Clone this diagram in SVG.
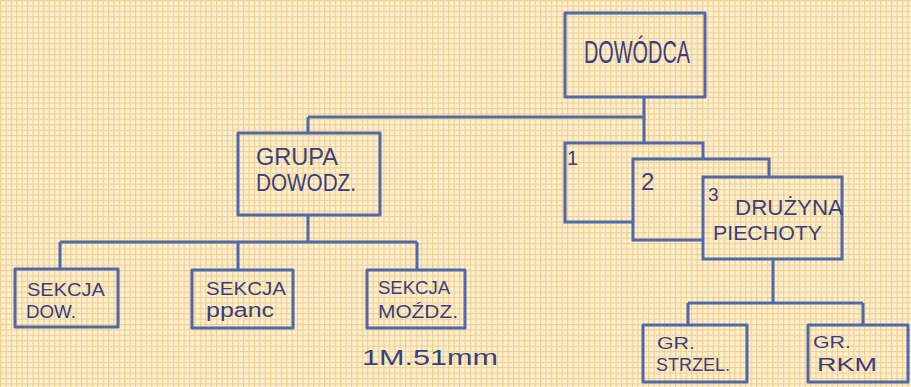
<svg xmlns="http://www.w3.org/2000/svg" width="911" height="387" viewBox="0 0 911 387" font-size="20">
<defs>
<pattern id="grid" width="5.4" height="5.4" patternUnits="userSpaceOnUse">
<rect width="5.4" height="5.4" fill="#fbefd4"/>
<path d="M0 0.6H5.4M0.6 0V5.4" stroke="#f2d08c" stroke-width="1.2"/>
</pattern>
<style>
.box{fill:none;stroke:#5069a8;stroke-width:3;stroke-linejoin:round}
.bg{fill:url(#grid);stroke:#5069a8;stroke-width:3}
.ln{fill:none;stroke:#5069a8;stroke-width:3}
text{font-family:"Liberation Sans","DejaVu Sans",sans-serif;fill:#3b3e7c}
</style>
</defs>
<rect width="911" height="387" fill="url(#grid)"/>
<g id="connectors">
<path class="ln" d="M644 98V117M308 117H644M308 117V133M644 117V143"/>
<path class="ln" d="M308 215V242M60 242H417M60 242V269M238 242V270M417 242V270"/>
<path class="ln" d="M773 259V303M688 303H863M688 303V325M863 303V325"/>
</g>
<g id="dowodca">
<rect class="box" x="565" y="13" width="140" height="84"/>
<text x="584" y="63" font-size="31" textLength="106" lengthAdjust="spacingAndGlyphs">DOWÓDCA</text>
</g>
<g id="grupa-dowodz">
<rect class="box" x="238" y="133" width="142" height="82"/>
<text x="256" y="165" font-size="23" textLength="82" lengthAdjust="spacingAndGlyphs">GRUPA</text>
<text x="256" y="191" font-size="23" textLength="100" lengthAdjust="spacingAndGlyphs">DOWODZ.</text>
</g>
<g id="druzyna-1">
<rect class="bg" x="565" y="143" width="138" height="79"/>
<text x="567" y="165" font-size="20">1</text>
</g>
<g id="druzyna-2">
<rect class="bg" x="633" y="159" width="136" height="81"/>
<text x="641" y="190" font-size="24">2</text>
</g>
<g id="druzyna-3">
<rect class="bg" x="703" y="177" width="139" height="82"/>
<text x="708" y="201" font-size="19">3</text>
<text x="735" y="215" font-size="22" textLength="108" lengthAdjust="spacingAndGlyphs">DRUŻYNA</text>
<text x="713" y="240" font-size="21" textLength="109" lengthAdjust="spacingAndGlyphs">PIECHOTY</text>
</g>
<g id="sekcja-dow">
<rect class="box" x="15" y="269" width="103" height="58"/>
<text x="27" y="296" font-size="19" textLength="78" lengthAdjust="spacingAndGlyphs">SEKCJA</text>
<text x="26" y="318" font-size="19" textLength="50" lengthAdjust="spacingAndGlyphs">DOW.</text>
</g>
<g id="sekcja-ppanc">
<rect class="box" x="192" y="270" width="101" height="58"/>
<text x="206" y="295" font-size="19" textLength="80" lengthAdjust="spacingAndGlyphs">SEKCJA</text>
<text x="206" y="317" font-size="20" textLength="68" lengthAdjust="spacingAndGlyphs">ppanc</text>
</g>
<g id="sekcja-mozdz">
<rect class="box" x="367" y="270" width="98" height="58"/>
<text x="378" y="294" font-size="19" textLength="72" lengthAdjust="spacingAndGlyphs">SEKCJA</text>
<text x="378" y="318" font-size="19" textLength="80" lengthAdjust="spacingAndGlyphs">MOŹDZ.</text>
</g>
<text x="362" y="365" font-size="22" textLength="136" lengthAdjust="spacingAndGlyphs">1M.51mm</text>
<g id="gr-strzel">
<rect class="box" x="643" y="325" width="104" height="57"/>
<text x="657" y="349" font-size="17" textLength="38" lengthAdjust="spacingAndGlyphs">GR.</text>
<text x="656" y="371" font-size="18" textLength="74" lengthAdjust="spacingAndGlyphs">STRZEL.</text>
</g>
<g id="gr-rkm">
<rect class="box" x="808" y="325" width="100" height="57"/>
<text x="813" y="348" font-size="17" textLength="38" lengthAdjust="spacingAndGlyphs">GR.</text>
<text x="817" y="371" font-size="19" textLength="60" lengthAdjust="spacingAndGlyphs">RKM</text>
</g>
</svg>
